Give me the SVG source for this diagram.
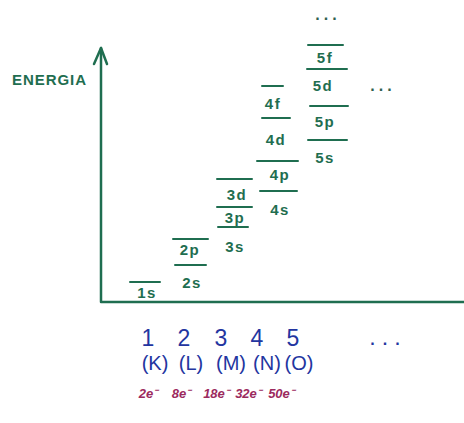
<svg xmlns="http://www.w3.org/2000/svg" width="464" height="423" viewBox="0 0 464 423">
<style>
.lv{stroke:#1f6e50;stroke-width:2;stroke-linecap:round;fill:none}
.lb{font-family:"Liberation Sans",Arial,sans-serif;font-size:15px;font-weight:bold;letter-spacing:1.5px;fill:#1f6e50;text-anchor:middle}
.ax{stroke:#1f6e50;stroke-width:2.5;stroke-linecap:round;stroke-linejoin:round;fill:none}
.n{font-family:"Liberation Sans",Arial,sans-serif;font-size:23px;fill:#2335a0;text-anchor:middle}
.sh{font-family:"Liberation Sans",Arial,sans-serif;font-size:20px;fill:#2335a0;text-anchor:middle}
.e{font-family:"Liberation Sans",Arial,sans-serif;font-size:13px;font-style:italic;font-weight:bold;fill:#9c2a5e;text-anchor:middle}
.d{font-family:"Liberation Sans",Arial,sans-serif;font-size:16px;font-weight:bold;letter-spacing:4px;fill:#2f5f4f;text-anchor:middle}
</style>
<rect width="464" height="423" fill="#ffffff"/>
<g id="axes">
<path class="ax" d="M101,48 L101,302 L464,302"/>
<path class="ax" d="M94,64 L101,48 L107,64"/>
<text x="49" y="85" font-family="Liberation Sans,Arial,sans-serif" font-size="15" font-weight="bold" fill="#1f6e50" text-anchor="middle" textLength="74" lengthAdjust="spacing">ENERGIA</text>
</g>
<g id="o1s"><line class="lv" x1="130" y1="282" x2="160" y2="282"/><text class="lb" x="147" y="298">1s</text></g>
<g id="o2s"><line class="lv" x1="175" y1="265" x2="206" y2="265"/><text class="lb" x="192" y="288">2s</text></g>
<g id="o2p"><line class="lv" x1="173" y1="239" x2="208" y2="239"/><text class="lb" x="190" y="255">2p</text></g>
<g id="o3s"><line class="lv" x1="218" y1="227" x2="248" y2="227"/><text class="lb" x="235" y="252">3s</text></g>
<g id="o3p"><line class="lv" x1="217" y1="207" x2="252" y2="207"/><text class="lb" x="235" y="223">3p</text></g>
<g id="o3d"><line class="lv" x1="217" y1="179" x2="252" y2="179"/><text class="lb" x="237" y="200">3d</text></g>
<g id="o4s"><line class="lv" x1="260" y1="191" x2="297" y2="191"/><text class="lb" x="280" y="215">4s</text></g>
<g id="o4p"><line class="lv" x1="257" y1="161" x2="298" y2="161"/><text class="lb" x="280" y="180">4p</text></g>
<g id="o4d"><line class="lv" x1="262" y1="118" x2="290" y2="118"/><text class="lb" x="276" y="145">4d</text></g>
<g id="o4f"><line class="lv" x1="262" y1="86" x2="283" y2="86"/><text class="lb" x="273" y="109">4f</text></g>
<g id="o5s"><line class="lv" x1="308" y1="140" x2="347" y2="140"/><text class="lb" x="325" y="163">5s</text></g>
<g id="o5p"><line class="lv" x1="310" y1="106" x2="348" y2="106"/><text class="lb" x="325" y="127">5p</text></g>
<g id="o5d"><line class="lv" x1="307" y1="69" x2="347" y2="69"/><text class="lb" x="323" y="91">5d</text></g>
<g id="o5f"><line class="lv" x1="308" y1="45" x2="343" y2="45"/><text class="lb" x="325" y="63">5f</text></g>
<g id="dots"><text class="d" x="328" y="20">...</text><text class="d" x="383" y="91">...</text><text class="d" x="389" y="345" style="fill:#2335a0;letter-spacing:8px">...</text></g>
<g id="shells">
<text class="n" x="148" y="346">1</text><text class="n" x="184" y="346">2</text><text class="n" x="221" y="346">3</text><text class="n" x="257" y="346">4</text><text class="n" x="293" y="346">5</text>
<text class="sh" x="155" y="370">(K)</text><text class="sh" x="191" y="370">(L)</text><text class="sh" x="231" y="370">(M)</text><text class="sh" x="267" y="370">(N)</text><text class="sh" x="299" y="370">(O)</text>
</g>
<g id="electrons">
<text class="e" x="148" y="398">2e⁻</text><text class="e" x="181" y="398">8e⁻</text><text class="e" x="216" y="398">18e⁻</text><text class="e" x="248" y="398">32e⁻</text><text class="e" x="281" y="398">50e⁻</text>
</g>
</svg>
